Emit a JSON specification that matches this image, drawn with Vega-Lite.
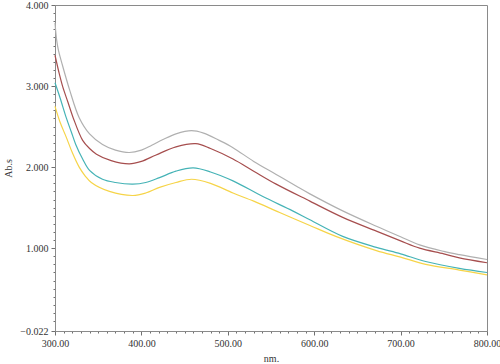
{
  "$schema": "https://vega.github.io/schema/vega-lite/v6.json",
  "width": 432,
  "height": 326,
  "autosize": {"type": "none"},
  "padding": {"left": 55, "top": 5, "right": 13, "bottom": 33},
  "background": "white",
  "config": {
    "view": {"stroke": "#8a8a8a", "strokeWidth": 1},
    "font": "Liberation Serif",
    "axis": {
      "grid": false,
      "domainColor": "#8a8a8a",
      "tickColor": "#707070",
      "labelFont": "Liberation Serif",
      "labelFontSize": 10,
      "labelColor": "#333333",
      "titleFont": "Liberation Serif",
      "titleFontSize": 10,
      "titleFontWeight": "normal",
      "titleColor": "#333333",
      "labelOverlap": false,
      "labelFlush": false
    }
  },
  "data": {
    "values": [
      {"nm": 300, "abs": 3.78, "s": "a"},
      {"nm": 302, "abs": 3.56, "s": "a"},
      {"nm": 304, "abs": 3.44, "s": "a"},
      {"nm": 308, "abs": 3.28, "s": "a"},
      {"nm": 317, "abs": 2.95, "s": "a"},
      {"nm": 328, "abs": 2.61, "s": "a"},
      {"nm": 340, "abs": 2.41, "s": "a"},
      {"nm": 355, "abs": 2.28, "s": "a"},
      {"nm": 370, "abs": 2.21, "s": "a"},
      {"nm": 386, "abs": 2.18, "s": "a"},
      {"nm": 400, "abs": 2.21, "s": "a"},
      {"nm": 412, "abs": 2.27, "s": "a"},
      {"nm": 425, "abs": 2.34, "s": "a"},
      {"nm": 440, "abs": 2.41, "s": "a"},
      {"nm": 458, "abs": 2.45, "s": "a"},
      {"nm": 472, "abs": 2.42, "s": "a"},
      {"nm": 490, "abs": 2.33, "s": "a"},
      {"nm": 506, "abs": 2.24, "s": "a"},
      {"nm": 530, "abs": 2.07, "s": "a"},
      {"nm": 556, "abs": 1.91, "s": "a"},
      {"nm": 580, "abs": 1.76, "s": "a"},
      {"nm": 595, "abs": 1.67, "s": "a"},
      {"nm": 633, "abs": 1.46, "s": "a"},
      {"nm": 672, "abs": 1.27, "s": "a"},
      {"nm": 700, "abs": 1.14, "s": "a"},
      {"nm": 722, "abs": 1.04, "s": "a"},
      {"nm": 750, "abs": 0.96, "s": "a"},
      {"nm": 768, "abs": 0.92, "s": "a"},
      {"nm": 800, "abs": 0.86, "s": "a"},

      {"nm": 300, "abs": 3.38, "s": "b"},
      {"nm": 305, "abs": 3.15, "s": "b"},
      {"nm": 309, "abs": 2.99, "s": "b"},
      {"nm": 315, "abs": 2.8, "s": "b"},
      {"nm": 321, "abs": 2.61, "s": "b"},
      {"nm": 332, "abs": 2.33, "s": "b"},
      {"nm": 340, "abs": 2.23, "s": "b"},
      {"nm": 348, "abs": 2.16, "s": "b"},
      {"nm": 365, "abs": 2.08, "s": "b"},
      {"nm": 386, "abs": 2.04, "s": "b"},
      {"nm": 400, "abs": 2.07, "s": "b"},
      {"nm": 417, "abs": 2.15, "s": "b"},
      {"nm": 440, "abs": 2.25, "s": "b"},
      {"nm": 463, "abs": 2.29, "s": "b"},
      {"nm": 480, "abs": 2.23, "s": "b"},
      {"nm": 506, "abs": 2.1, "s": "b"},
      {"nm": 530, "abs": 1.95, "s": "b"},
      {"nm": 556, "abs": 1.79, "s": "b"},
      {"nm": 595, "abs": 1.58, "s": "b"},
      {"nm": 633, "abs": 1.38, "s": "b"},
      {"nm": 672, "abs": 1.21, "s": "b"},
      {"nm": 700, "abs": 1.09, "s": "b"},
      {"nm": 722, "abs": 1.0, "s": "b"},
      {"nm": 750, "abs": 0.93, "s": "b"},
      {"nm": 768, "abs": 0.88, "s": "b"},
      {"nm": 800, "abs": 0.82, "s": "b"},

      {"nm": 300, "abs": 3.04, "s": "c"},
      {"nm": 306, "abs": 2.85, "s": "c"},
      {"nm": 313, "abs": 2.61, "s": "c"},
      {"nm": 319, "abs": 2.43, "s": "c"},
      {"nm": 324, "abs": 2.28, "s": "c"},
      {"nm": 332, "abs": 2.1, "s": "c"},
      {"nm": 340, "abs": 1.96, "s": "c"},
      {"nm": 355, "abs": 1.85, "s": "c"},
      {"nm": 370, "abs": 1.81, "s": "c"},
      {"nm": 390, "abs": 1.79, "s": "c"},
      {"nm": 405, "abs": 1.81, "s": "c"},
      {"nm": 421, "abs": 1.87, "s": "c"},
      {"nm": 440, "abs": 1.95, "s": "c"},
      {"nm": 460, "abs": 1.99, "s": "c"},
      {"nm": 480, "abs": 1.94, "s": "c"},
      {"nm": 506, "abs": 1.83, "s": "c"},
      {"nm": 540, "abs": 1.64, "s": "c"},
      {"nm": 575, "abs": 1.46, "s": "c"},
      {"nm": 595, "abs": 1.35, "s": "c"},
      {"nm": 633, "abs": 1.145, "s": "c"},
      {"nm": 672, "abs": 1.01, "s": "c"},
      {"nm": 700, "abs": 0.93, "s": "c"},
      {"nm": 729, "abs": 0.835, "s": "c"},
      {"nm": 768, "abs": 0.75, "s": "c"},
      {"nm": 800, "abs": 0.7, "s": "c"},

      {"nm": 300, "abs": 2.75, "s": "d"},
      {"nm": 306, "abs": 2.55, "s": "d"},
      {"nm": 313, "abs": 2.37, "s": "d"},
      {"nm": 320, "abs": 2.18, "s": "d"},
      {"nm": 328, "abs": 2.0, "s": "d"},
      {"nm": 335, "abs": 1.89, "s": "d"},
      {"nm": 342, "abs": 1.81, "s": "d"},
      {"nm": 363, "abs": 1.7, "s": "d"},
      {"nm": 390, "abs": 1.65, "s": "d"},
      {"nm": 405, "abs": 1.68, "s": "d"},
      {"nm": 421, "abs": 1.75, "s": "d"},
      {"nm": 440, "abs": 1.81, "s": "d"},
      {"nm": 458, "abs": 1.85, "s": "d"},
      {"nm": 480, "abs": 1.8, "s": "d"},
      {"nm": 506, "abs": 1.68, "s": "d"},
      {"nm": 530, "abs": 1.58, "s": "d"},
      {"nm": 560, "abs": 1.44, "s": "d"},
      {"nm": 595, "abs": 1.28, "s": "d"},
      {"nm": 625, "abs": 1.145, "s": "d"},
      {"nm": 672, "abs": 0.97, "s": "d"},
      {"nm": 700, "abs": 0.89, "s": "d"},
      {"nm": 729, "abs": 0.8, "s": "d"},
      {"nm": 768, "abs": 0.73, "s": "d"},
      {"nm": 800, "abs": 0.67, "s": "d"}
    ]
  },
  "mark": {"type": "line", "strokeWidth": 1.2, "interpolate": "catmull-rom"},
  "encoding": {
    "x": {
      "field": "nm",
      "type": "quantitative",
      "scale": {"domain": [300, 800], "nice": false, "zero": false},
      "axis": {
        "title": "nm.",
        "titlePadding": 5,
        "values": [300,310,320,330,340,350,360,370,380,390,400,410,420,430,440,450,460,470,480,490,500,510,520,530,540,550,560,570,580,590,600,610,620,630,640,650,660,670,680,690,700,710,720,730,740,750,760,770,780,790,800],
        "labelExpr": "datum.value % 100 === 0 ? format(datum.value, '.2f') : ''",
        "tickSize": {"condition": {"test": "datum.value % 100 === 0", "value": 4}, "value": 2},
        "labelPadding": 3
      }
    },
    "y": {
      "field": "abs",
      "type": "quantitative",
      "scale": {"domain": [-0.022, 4.0], "nice": false, "zero": false},
      "axis": {
        "title": "Ab.s",
        "titlePadding": 6,
        "values": [-0.022,0.1,0.2,0.3,0.4,0.5,0.6,0.7,0.8,0.9,1,1.1,1.2,1.3,1.4,1.5,1.6,1.7,1.8,1.9,2,2.1,2.2,2.3,2.4,2.5,2.6,2.7,2.8,2.9,3,3.1,3.2,3.3,3.4,3.5,3.6,3.7,3.8,3.9,4],
        "labelExpr": "(datum.value < 0 || abs(datum.value - round(datum.value)) < 0.0001) ? format(datum.value, '.3f') : ''",
        "tickSize": {"condition": {"test": "datum.value < 0 || abs(datum.value - round(datum.value)) < 0.0001", "value": 4}, "value": 2},
        "labelPadding": 3
      }
    },
    "color": {
      "field": "s",
      "type": "nominal",
      "legend": null,
      "scale": {"domain": ["a", "b", "c", "d"], "range": ["#b0b0b0", "#a64e4e", "#45b3b6", "#f6d448"]}
    }
  }
}
